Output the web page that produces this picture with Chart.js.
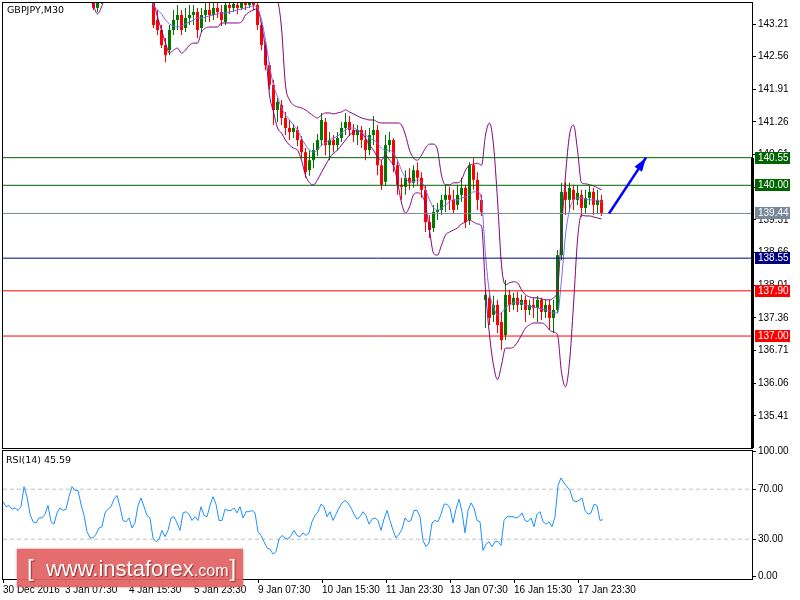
<!DOCTYPE html>
<html><head><meta charset="utf-8">
<script src="https://cdn.jsdelivr.net/npm/chart.js@4.4.1/dist/chart.umd.min.js"></script>
<style>
html,body{margin:0;padding:0;background:#fff;width:800px;height:600px;overflow:hidden;}
#main{position:absolute;left:0;top:0;}
#rsi{position:absolute;left:0;top:440px;}
#wm{position:absolute;left:17px;top:549px;width:226px;height:38px;background:rgba(226,98,98,0.93);box-shadow:0 0 2px rgba(110,0,0,0.55);font-family:"Liberation Sans",Arial,sans-serif;color:#fff;font-size:22px;line-height:38px;padding-left:10px;box-sizing:border-box;white-space:nowrap;text-shadow:1px 1px 1px rgba(80,0,0,0.55);}
#wm .b{font-size:24px;}
#wm .b2{font-size:24px;margin-left:1px;}
#wm small{font-size:16px;}
</style></head><body>
<canvas id="main" width="800" height="450"></canvas>
<canvas id="rsi" width="800" height="160"></canvas>
<div id="wm"><span class="b">[</span>&nbsp;&nbsp;www.instaforex<small>.com</small><span class="b2">]</span></div>
<script>
// ---------- data ----------
const symbolLabel = 'GBPJPY,M30';
const rsiLabel = 'RSI(14) 45.59';

const opens = [
144.05,144.09,144.13,144.09,144.11,144.29,144.49,144.33,144.13,144.05,
144.13,144.09,144.19,144.09,144.25,144.29,144.53,144.65,144.69,144.39,
144.19,143.93,143.79,143.53,143.65,143.85,143.99,144.19,144.29,144.13,
144.05,144.29,144.45,144.39,144.09,143.99,143.89,143.69,143.29,143.09,
142.79,142.69,143.09,143.29,143.39,143.13,143.33,143.39,143.45,143.13,
143.39,143.49,143.39,143.53,143.45,143.25,143.59,143.53,143.59,143.53,
143.65,143.59,143.65,143.59,143.19,142.79,142.39,142.00,141.50,141.60,
141.34,141.14,141.06,141.10,140.90,140.66,140.30,140.50,140.70,140.90,
141.26,140.80,140.90,140.80,140.94,141.14,141.26,141.10,141.00,141.10,
140.90,140.70,141.00,141.10,140.40,140.07,140.80,140.90,140.40,140.01,
139.97,140.15,140.05,140.30,140.15,139.91,139.27,139.15,139.47,139.51,
139.71,139.81,139.71,139.61,139.81,139.95,139.31,140.40,140.11,139.71,
137.72,137.76,137.42,137.62,137.28,137.02,137.82,137.62,137.76,137.62,
137.72,137.52,137.62,137.56,137.72,137.48,137.62,137.36,137.52,138.61,
139.87,139.71,139.91,139.71,139.81,139.55,139.75,139.87,139.61,139.71];
const highs = [
144.17,144.21,144.19,144.19,144.35,144.55,144.53,144.37,144.19,144.19,
144.21,144.25,144.25,144.29,144.37,144.59,144.72,144.78,144.72,144.45,
144.25,143.97,143.85,143.73,143.93,144.05,144.25,144.37,144.35,144.19,
144.35,144.53,144.49,144.43,144.15,144.05,143.93,143.79,143.49,143.19,
142.93,143.19,143.49,143.59,143.49,143.53,143.59,143.59,143.53,143.53,
143.65,143.63,143.65,143.69,143.59,143.69,143.73,143.73,143.69,143.75,
143.79,143.79,143.79,143.69,143.25,142.85,142.45,142.10,141.74,141.70,
141.46,141.30,141.22,141.18,140.98,140.74,140.70,140.84,141.02,141.44,
141.34,141.06,141.00,141.06,141.26,141.44,141.38,141.22,141.20,141.18,
141.10,141.14,141.38,141.20,140.50,141.00,141.06,140.94,140.50,140.15,
140.30,140.34,140.40,140.46,140.26,139.99,139.41,139.61,139.65,139.81,
140.01,139.97,139.91,140.01,140.15,140.01,140.46,140.54,140.26,139.81,
137.92,137.92,137.80,137.72,137.48,138.12,137.92,137.86,137.88,137.82,
137.80,137.72,137.76,137.80,137.76,137.72,137.72,137.72,138.71,140.05,
140.07,140.05,140.01,139.99,139.91,139.91,139.99,139.95,139.91,139.81];
const lows = [
143.99,144.03,144.03,144.01,144.07,144.25,144.27,144.07,143.99,143.99,
144.03,144.03,144.03,144.05,144.19,144.25,144.49,144.59,144.33,144.13,
143.89,143.73,143.49,143.45,143.61,143.79,143.93,144.13,144.09,143.99,
143.99,144.23,144.29,144.03,143.93,143.81,143.65,143.13,142.99,142.73,
142.45,142.59,142.99,143.09,142.99,143.05,143.19,143.19,142.93,143.05,
143.25,143.25,143.29,143.33,143.17,143.19,143.41,143.45,143.41,143.49,
143.49,143.53,143.49,143.09,142.69,142.29,141.90,141.20,141.26,141.20,
141.00,140.90,140.94,140.78,140.54,140.15,140.19,140.34,140.58,140.78,
140.60,140.50,140.66,140.70,140.86,141.00,140.98,140.86,140.80,140.74,
140.50,140.60,140.80,140.20,139.91,139.99,140.66,140.26,139.81,139.71,
139.81,139.91,139.95,140.01,139.75,139.07,138.95,139.07,139.31,139.41,
139.47,139.51,139.43,139.51,139.67,139.15,139.21,139.91,139.51,139.39,
137.16,137.22,137.28,137.06,136.72,136.92,137.48,137.52,137.48,137.52,
137.28,137.42,137.36,137.28,137.32,137.36,137.12,137.06,137.46,138.51,
139.41,139.47,139.51,139.61,139.37,139.43,139.61,139.41,139.43,139.39];
const closes = [
144.09,144.13,144.09,144.11,144.29,144.49,144.33,144.13,144.05,144.13,
144.09,144.19,144.09,144.25,144.29,144.53,144.65,144.69,144.39,144.19,
143.93,143.79,143.53,143.65,143.85,143.99,144.19,144.29,144.13,144.05,
144.29,144.45,144.39,144.09,143.99,143.89,143.73,143.19,143.09,142.79,
142.59,143.09,143.29,143.39,143.09,143.33,143.39,143.45,143.09,143.39,
143.49,143.39,143.53,143.45,143.29,143.59,143.53,143.61,143.53,143.65,
143.59,143.65,143.59,143.19,142.79,142.39,142.00,141.50,141.66,141.34,
141.14,141.06,141.14,140.90,140.66,140.26,140.50,140.70,140.90,141.30,
140.80,140.90,140.80,140.94,141.14,141.26,141.10,141.00,141.10,140.90,
140.70,141.00,141.10,140.40,140.01,140.80,140.90,140.40,140.01,139.97,
140.15,140.05,140.30,140.15,139.91,139.27,139.11,139.47,139.51,139.71,
139.81,139.71,139.51,139.81,139.95,139.27,140.40,140.11,139.71,139.47,
137.82,137.36,137.62,137.22,136.92,137.82,137.62,137.76,137.62,137.72,
137.52,137.62,137.56,137.72,137.48,137.62,137.36,137.52,138.61,139.87,
139.71,139.95,139.71,139.85,139.55,139.75,139.87,139.61,139.71,139.44];

const bbUpper = [
144.44,144.48,144.48,144.50,144.56,144.68,144.72,144.68,144.60,144.52,
144.48,144.46,144.44,144.46,144.50,144.58,144.72,144.88,144.96,144.92,
144.80,144.64,144.48,144.40,144.40,144.44,144.52,144.60,144.64,144.64,
144.68,144.72,144.72,144.68,144.60,144.48,144.36,144.28,144.24,144.19,
144.09,143.99,143.89,143.83,143.77,143.75,143.75,143.79,143.85,143.85,
143.79,143.75,143.73,143.71,143.71,143.71,143.73,143.79,143.85,143.89,
143.89,143.85,143.81,143.85,143.89,143.93,143.89,143.79,143.69,143.13,
141.99,141.70,141.60,141.56,141.54,141.50,141.44,141.38,141.34,141.40,
141.44,141.44,141.42,141.44,141.46,141.50,141.46,141.42,141.38,141.34,
141.32,141.30,141.30,141.26,141.24,141.24,141.24,141.24,141.24,141.20,
141.00,140.70,140.54,140.50,140.60,140.74,140.82,140.82,140.70,140.20,
140.01,140.01,140.05,140.05,140.11,140.30,140.40,140.42,140.44,140.40,
141.00,141.24,140.80,139.71,138.41,138.02,138.06,138.08,138.06,137.92,
137.82,137.78,137.76,137.76,137.74,137.72,137.72,137.76,137.92,139.11,
140.20,141.00,141.20,140.70,140.05,140.03,140.01,139.99,139.95,139.91];
const bbMiddle = [
144.09,144.11,144.13,144.13,144.17,144.22,144.26,144.24,144.21,144.17,
144.13,144.13,144.13,144.13,144.17,144.22,144.32,144.42,144.48,144.46,
144.38,144.24,144.09,143.97,143.93,143.95,144.01,144.09,144.15,144.17,
144.19,144.22,144.24,144.22,144.17,144.07,143.95,143.59,143.49,143.41,
143.29,143.21,143.17,143.15,143.17,143.21,143.25,143.29,143.33,143.33,
143.35,143.37,143.39,143.41,143.43,143.43,143.45,143.47,143.49,143.51,
143.53,143.55,143.57,143.53,143.29,142.89,142.39,141.99,141.76,141.54,
141.40,141.30,141.20,141.10,140.94,140.80,140.70,140.66,140.70,140.80,
140.84,140.90,140.94,140.98,141.04,141.10,141.14,141.14,141.10,141.04,
141.00,140.94,140.90,140.84,140.74,140.70,140.70,140.64,140.50,140.30,
140.15,140.07,140.07,140.11,140.07,139.91,139.71,139.55,139.51,139.55,
139.61,139.67,139.71,139.71,139.75,139.77,139.81,139.87,139.87,139.71,
138.61,137.86,137.58,137.42,137.46,137.56,137.62,137.66,137.68,137.66,
137.62,137.60,137.58,137.56,137.54,137.52,137.50,137.46,137.46,138.12,
139.01,139.51,139.71,139.75,139.75,139.73,139.71,139.71,139.69,139.67];
const bbLower = [
143.75,143.75,143.77,143.77,143.79,143.79,143.81,143.81,143.81,143.81,
143.79,143.79,143.79,143.79,143.81,143.85,143.89,143.93,143.97,143.93,
143.85,143.73,143.57,143.41,143.55,143.75,143.77,143.81,143.85,143.85,
143.79,143.79,143.81,143.81,143.77,143.73,143.71,143.63,143.35,143.09,
142.83,142.63,142.69,142.73,142.63,142.69,142.79,142.83,142.83,143.05,
143.13,143.15,143.15,143.15,143.23,143.23,143.23,143.23,143.23,143.25,
143.39,143.45,143.49,143.51,143.19,142.69,141.80,141.46,141.14,141.04,
140.90,140.80,140.74,140.70,140.50,140.20,140.05,140.01,140.11,140.26,
140.40,140.54,140.64,140.70,140.80,140.90,141.00,141.06,141.10,141.04,
140.94,140.80,140.70,140.56,140.50,140.60,140.50,140.40,140.07,139.65,
139.45,139.57,139.81,139.85,139.81,139.61,139.11,138.65,138.61,138.81,
139.01,139.07,139.11,139.15,139.23,139.27,139.31,139.27,139.23,139.19,
137.92,137.02,136.42,136.13,136.42,136.76,136.76,136.78,136.88,137.02,
137.16,137.22,137.26,137.26,137.26,137.22,137.12,137.08,137.02,136.28,
135.99,136.48,137.62,138.91,139.41,139.39,139.39,139.37,139.35,139.33];

const rsiValues = [
60,56,57,54,55,53,56,72,64,50,
44,43,47,47,50,57,44,42,51,55,
53,54,64,72,69,69,58,49,36,31,
31,34,39,40,51,54,56,62,65,56,
45,44,47,39,43,57,63,56,49,47,
31,28,30,37,32,37,47,48,43,37,
51,52,50,45,48,45,56,49,48,57,
64,58,45,45,54,53,53,55,51,56,
47,52,52,53,51,36,33,28,23,22,
18,20,30,33,31,30,33,37,33,32,
35,33,35,44,49,52,58,56,48,52,
45,50,55,59,61,59,55,50,46,48,
52,49,42,46,47,45,37,46,53,45,
37,31,34,38,47,44,45,53,53,48,
29,24,27,43,45,44,50,58,58,55,
43,54,62,52,35,53,59,55,45,44,
21,26,28,24,28,28,25,45,48,48,
48,47,48,51,45,44,47,40,50,52,
44,42,44,40,48,73,79,75,72,69,
61,60,61,63,53,50,51,58,57,45,
45.59];

const priceTicks = [143.21,142.56,141.91,141.26,140.61,139.96,139.31,138.66,138.01,137.36,136.71,136.06,135.41];
const rsiTicks = [100,70,30,0];
const rsiLevels = [70,30];
const levels = [140.55,140.00,139.44,138.55,137.90,137.00];
const timeLabels = ['30 Dec 2016','3 Jan 07:30','4 Jan 15:30','5 Jan 23:30','9 Jan 07:30','10 Jan 15:30','11 Jan 23:30','13 Jan 07:30','16 Jan 15:30','17 Jan 23:30'];
const timeTickBars = [0,62,126,191,255,319,383,447,511,575];
const arrowFrom = [606,139.44];
const arrowTo = [643,140.55];

// ---------- layout / style ----------
const X_MIN = 0, X_MAX = 749;
const CANDLE_OFFSET = 2.5, CANDLE_STEP = 4, RSI_STEP = 3;
const PRICE_MIN = 134.772, PRICE_MAX = 143.628;
const RSI_MIN = -1.84, RSI_MAX = 100.56;
const BULL = '#007800', BEAR = '#ff0000';
const levelColors = ['#006400','#006400','#778899','#000080','#ff0000','#ff0000'];
const AXIS_FONT = {family:'"Liberation Sans", Arial, sans-serif', size:10};

const cx = i => CANDLE_OFFSET + i * CANDLE_STEP;
const candleColors = closes.map((c,i) => c >= opens[i] ? BULL : BEAR);
const bandLine = (arr, color) => ({
  type:'line', data: arr.map((v,i)=>({x:cx(i), y:v})), borderColor:color, borderWidth:1,
  pointRadius:0, tension:0, cubicInterpolationMode:'monotone', order:5, clip:0
});
const noPad = s => { s.paddingTop = 0; s.paddingBottom = 0; s.paddingLeft = 0; s.paddingRight = 0; };

const mainDecor = {
  id:'mainDecor',
  afterDraw(chart){
    const {ctx, chartArea:a, scales:{x, y}} = chart;
    ctx.save();
    ctx.strokeStyle = '#000'; ctx.lineWidth = 1;
    ctx.strokeRect(a.left-0.5, a.top-0.5, a.right-a.left+1, a.bottom-a.top+1);
    const yTop = Math.round(y.getPixelForValue(levels[0]));
    ctx.fillStyle = '#000';
    ctx.fillRect(a.right-1, yTop, 3, a.bottom - yTop);
    const x1 = x.getPixelForValue(arrowFrom[0]), y1 = y.getPixelForValue(arrowFrom[1]);
    const x2 = x.getPixelForValue(arrowTo[0]), y2 = y.getPixelForValue(arrowTo[1]);
    const ang = Math.atan2(y2-y1, x2-x1), L = 14, W = 4.5;
    const bx = x2 - L*Math.cos(ang), by = y2 - L*Math.sin(ang);
    ctx.fillStyle = '#0000ff';
    ctx.beginPath(); ctx.moveTo(x2, y2);
    ctx.lineTo(bx + W*Math.sin(ang), by - W*Math.cos(ang));
    ctx.lineTo(bx - W*Math.sin(ang), by + W*Math.cos(ang));
    ctx.closePath(); ctx.fill();
    ctx.font = '10px "Liberation Sans", Arial, sans-serif';
    ctx.textBaseline = 'middle'; ctx.textAlign = 'left';
    levels.forEach((v,i) => {
      const yy = Math.round(y.getPixelForValue(v));
      ctx.fillStyle = levelColors[i];
      ctx.fillRect(a.right+3, yy-6, 35, 12);
      ctx.fillStyle = '#fff';
      ctx.fillText(v.toFixed(2), a.right+6, yy+0.5);
    });
    ctx.fillStyle = '#000';
    ctx.font = '9.5px "DejaVu Sans", sans-serif';
    ctx.textBaseline = 'alphabetic';
    ctx.fillText(symbolLabel, 7, 13);
    ctx.restore();
  }
};

new Chart(document.getElementById('main'), {
  type:'bar',
  data:{datasets:[
    {type:'bar', data: highs.map((h,i)=>({x:cx(i), y:[lows[i], h]})), backgroundColor:candleColors,
     barThickness:1, grouped:false, inflateAmount:0, borderWidth:0, order:10, clip:0},
    {type:'bar', data: opens.map((o,i)=>({x:cx(i), y:[o, closes[i]]})), backgroundColor:candleColors,
     barThickness:3, grouped:false, inflateAmount:0, borderWidth:0, minBarLength:1, order:9, clip:0},
    bandLine(bbUpper,'#800080'), bandLine(bbMiddle,'#7b68ee'), bandLine(bbLower,'#800080'),
    ...levels.map((v,i)=>({type:'line', data:[{x:X_MIN,y:v},{x:X_MAX,y:v}], borderColor:levelColors[i],
      borderWidth:1, pointRadius:0, order:3, clip:0})),
    {type:'line', data:[{x:arrowFrom[0],y:arrowFrom[1]},{x:arrowTo[0],y:arrowTo[1]}], borderColor:'#0000ff',
      borderWidth:2.5, pointRadius:0, order:1, clip:0}
  ]},
  options:{
    responsive:false, animation:false, events:[],
    layout:{padding:{left:3, top:3, right:0, bottom:2}},
    plugins:{legend:{display:false}, tooltip:{enabled:false}},
    scales:{
      x:{type:'linear', min:X_MIN, max:X_MAX, offset:false, display:false},
      y:{type:'linear', position:'right', min:PRICE_MIN, max:PRICE_MAX,
         afterFit(s){ s.width = 48; noPad(s); },
         afterBuildTicks(s){ s.ticks = priceTicks.map(v=>({value:v})); },
         grid:{drawOnChartArea:false, drawTicks:true, tickLength:4, color:'#000'},
         border:{display:true, color:'#000'},
         ticks:{color:'#000', font:AXIS_FONT, padding:2, callback:v=>Number(v).toFixed(2)}}
    }
  },
  plugins:[mainDecor]
});

const rsiDecor = {
  id:'rsiDecor',
  afterDraw(chart){
    const {ctx, chartArea:a} = chart;
    ctx.save();
    ctx.strokeStyle = '#000'; ctx.lineWidth = 1;
    ctx.strokeRect(a.left-0.5, a.top-0.5, a.right-a.left+1, a.bottom-a.top+1);
    ctx.fillStyle = '#000';
    ctx.font = '9.5px "DejaVu Sans", sans-serif';
    ctx.textBaseline = 'alphabetic';
    ctx.fillText(rsiLabel, 6, a.top + 12);
    ctx.restore();
  }
};

new Chart(document.getElementById('rsi'), {
  type:'line',
  data:{datasets:[
    {data: rsiValues.map((v,k)=>({x:k*RSI_STEP, y:v})), borderColor:'#1e90ff', borderWidth:1,
     pointRadius:0, tension:0, order:1, clip:0},
    ...rsiLevels.map(v=>({data:[{x:X_MIN,y:v},{x:X_MAX,y:v}], borderColor:'#c0c0c0', borderDash:[4,3],
      borderWidth:1, pointRadius:0, order:2, clip:0}))
  ]},
  options:{
    responsive:false, animation:false, events:[],
    layout:{padding:{left:3, top:11, right:0, bottom:0}},
    plugins:{legend:{display:false}, tooltip:{enabled:false}},
    scales:{
      x:{type:'linear', min:X_MIN, max:X_MAX, offset:false,
         afterFit(s){ s.height = 21; noPad(s); },
         afterBuildTicks(s){ s.ticks = timeTickBars.map(v=>({value:v})); },
         grid:{drawOnChartArea:false, drawTicks:true, tickLength:4, color:'#000'},
         border:{display:true, color:'#000'},
         ticks:{color:'#000', font:AXIS_FONT, padding:1, align:'start', maxRotation:0, autoSkip:false,
                callback:(v,i)=>timeLabels[i]}},
      y:{type:'linear', position:'right', min:RSI_MIN, max:RSI_MAX,
         afterFit(s){ s.width = 48; noPad(s); },
         afterBuildTicks(s){ s.ticks = rsiTicks.map(v=>({value:v})); },
         grid:{drawOnChartArea:false, drawTicks:true, tickLength:4, color:'#000'},
         border:{display:true, color:'#000'},
         ticks:{color:'#000', font:AXIS_FONT, padding:2, callback:v=>Number(v).toFixed(2)}}
    }
  },
  plugins:[rsiDecor]
});
</script>
</body></html>
